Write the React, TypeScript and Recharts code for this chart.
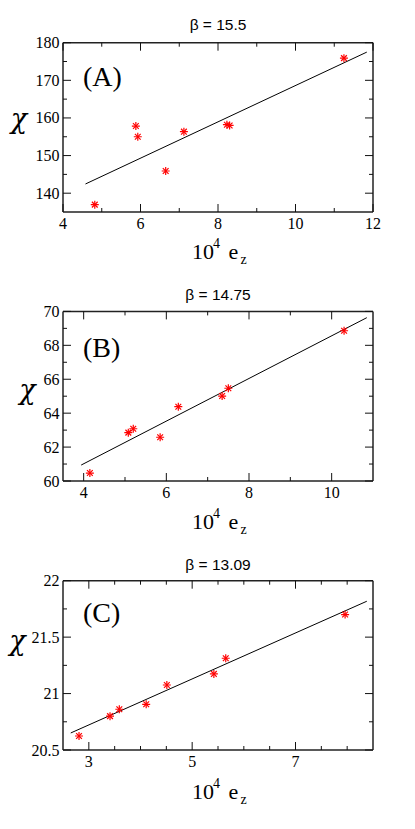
import React from "react";
import { ScatterChart, Scatter, XAxis, YAxis } from "recharts";

// ---------- data ----------
const titlesText = ["β = 15.5", "β = 14.75", "β = 13.09"];
const panelLetters = ["(A)", "(B)", "(C)"];

const panelAX = [4.82, 5.88, 5.93, 6.65, 7.12, 8.23, 8.3, 11.25];
const panelAY = [136.95, 157.85, 155.0, 145.9, 156.35, 158.2, 158.0, 175.9];
const fitAX = [4.58, 11.84];
const fitAY = [142.45, 177.5];

const panelBX = [4.15, 5.08, 5.2, 5.85, 6.29, 7.35, 7.5, 10.3];
const panelBY = [60.47, 62.85, 63.08, 62.58, 64.38, 65.01, 65.47, 68.86];
const fitBX = [3.94, 10.85];
const fitBY = [60.94, 69.63];

const panelCX = [2.81, 3.41, 3.59, 4.11, 4.51, 5.42, 5.65, 7.96];
const panelCY = [20.624, 20.8, 20.861, 20.905, 21.076, 21.174, 21.313, 21.7];
const fitCX = [2.65, 8.38];
const fitCY = [20.651, 21.818];

const xDomainA = [4, 12];
const yDomainA = [135, 180];
const xMajorA = [4, 6, 8, 10, 12];
const xMinorA = [5, 7, 9, 11];
const yMajorA = [140, 150, 160, 170, 180];
const yMinorA = [145, 155, 165, 175];

const xDomainB = [3.5, 11];
const yDomainB = [60, 70];
const xMajorB = [4, 6, 8, 10];
const xMinorB = [5, 7, 9];
const yMajorB = [60, 62, 64, 66, 68, 70];
const yMinorB = [61, 63, 65, 67, 69];

const xDomainC = [2.5, 8.5];
const yDomainC = [20.5, 22];
const xMajorC = [3, 5, 7];
const xMinorC = [3.5, 4, 4.5, 5.5, 6, 6.5, 7.5, 8];
const yMajorC = [20.5, 21, 21.5, 22];
const yMinorC = [20.75, 21.25, 21.75];

const zip = (xs: number[], ys: number[]) => xs.map((x, i) => ({ x, y: ys[i] }));

// ---------- styles ----------
const SERIF = "'Liberation Serif', 'Times New Roman', serif";
const SANS = "'Liberation Sans', Arial, sans-serif";
const FRAME = "#222";
const MAJOR_LEN = 8;
const MINOR_LEN = 4;

type Panel = {
  title: string;
  letter: string;
  points: { x: number; y: number }[];
  fit: { x: number; y: number }[];
  xDomain: number[];
  yDomain: number[];
  xMajor: number[];
  xMinor: number[];
  yMajor: number[];
  yMinor: number[];
  plotTop: number;
  plotBottom: number;
  letterY: number;
  chiX: number;
  chiY: number;
};

const panels: Panel[] = [
  {
    title: titlesText[0], letter: panelLetters[0],
    points: zip(panelAX, panelAY), fit: zip(fitAX, fitAY),
    xDomain: xDomainA, yDomain: yDomainA,
    xMajor: xMajorA, xMinor: xMinorA, yMajor: yMajorA, yMinor: yMinorA,
    plotTop: 42.7, plotBottom: 212, letterY: 86, chiX: 19, chiY: 128,
  },
  {
    title: titlesText[1], letter: panelLetters[1],
    points: zip(panelBX, panelBY), fit: zip(fitBX, fitBY),
    xDomain: xDomainB, yDomain: yDomainB,
    xMajor: xMajorB, xMinor: xMinorB, yMajor: yMajorB, yMinor: yMinorB,
    plotTop: 41.4, plotBottom: 211, letterY: 87, chiX: 27.5, chiY: 129,
  },
  {
    title: titlesText[2], letter: panelLetters[2],
    points: zip(panelCX, panelCY), fit: zip(fitCX, fitCY),
    xDomain: xDomainC, yDomain: yDomainC,
    xMajor: xMajorC, xMinor: xMinorC, yMajor: yMajorC, yMinor: yMinorC,
    plotTop: 40.7, plotBottom: 210, letterY: 82, chiX: 17.5, chiY: 110,
  },
];

const CHART_W = 415;
const CHART_H = 270;
const LEFT_W = 63;
const RIGHT_W = 42;

const isIn = (arr: number[], v: number) => arr.some((a) => Math.abs(a - v) < 1e-9);

const makeTick = (side: "bottom" | "top" | "left" | "right", major: number[]) => (props: any) => {
  const { x, y, payload } = props;
  const v = payload.value;
  const maj = isIn(major, v);
  const len = maj ? MAJOR_LEN : MINOR_LEN;
  let line;
  let label = null;
  if (side === "bottom") {
    line = <line x1={x} x2={x} y1={y} y2={y - len} stroke="#111" strokeWidth={1} />;
    if (maj)
      label = (
        <text x={x} y={y + 16.5} textAnchor="middle" fontFamily={SERIF} fontSize={16} fill="#000">
          {String(v)}
        </text>
      );
  } else if (side === "top") {
    line = <line x1={x} x2={x} y1={y} y2={y + len} stroke="#111" strokeWidth={1} />;
  } else if (side === "left") {
    line = <line x1={x} x2={x + len} y1={y} y2={y} stroke="#111" strokeWidth={1} />;
    if (maj)
      label = (
        <text x={x - 3.5} y={y + 5.5} textAnchor="end" fontFamily={SERIF} fontSize={16} fill="#000">
          {String(v)}
        </text>
      );
  } else {
    line = <line x1={x} x2={x - len} y1={y} y2={y} stroke="#111" strokeWidth={1} />;
  }
  return (
    <g>
      {line}
      {label}
    </g>
  );
};

const Star = (props: any) => {
  const { cx, cy } = props;
  const r = 4;
  const d = r * 0.72;
  return (
    <g stroke="#ff0000" strokeWidth={1.2}>
      <line x1={cx - r} x2={cx + r} y1={cy} y2={cy} />
      <line x1={cx} x2={cx} y1={cy - r} y2={cy + r} />
      <line x1={cx - d} x2={cx + d} y1={cy - d} y2={cy + d} />
      <line x1={cx - d} x2={cx + d} y1={cy + d} y2={cy - d} />
    </g>
  );
};

const NoShape = () => <g />;

const PanelChart = ({ p }: { p: Panel }) => {
  const xTicks = [...p.xMajor, ...p.xMinor].sort((a, b) => a - b);
  const yTicks = [...p.yMajor, ...p.yMinor].sort((a, b) => a - b);
  const axisLine = { stroke: FRAME, strokeWidth: 1.5 };
  const plotCenterX = LEFT_W + (CHART_W - LEFT_W - RIGHT_W) / 2;
  return (
    <div style={{ position: "relative", width: CHART_W, height: CHART_H }}>
      <ScatterChart width={CHART_W} height={CHART_H} margin={{ top: 0, right: 0, bottom: 0, left: 0 }}>
        <XAxis
          xAxisId="b"
          type="number"
          dataKey="x"
          domain={p.xDomain}
          allowDataOverflow
          ticks={xTicks}
          interval={0}
          height={CHART_H - p.plotBottom}
          tickSize={0}
          tickMargin={0}
          tickLine={false}
          axisLine={axisLine}
          tick={makeTick("bottom", p.xMajor)}
        />
        <XAxis
          xAxisId="t"
          orientation="top"
          type="number"
          dataKey="x"
          domain={p.xDomain}
          allowDataOverflow
          ticks={xTicks}
          interval={0}
          height={p.plotTop}
          tickSize={0}
          tickMargin={0}
          tickLine={false}
          axisLine={axisLine}
          tick={makeTick("top", p.xMajor)}
        />
        <YAxis
          yAxisId="l"
          type="number"
          dataKey="y"
          domain={p.yDomain}
          allowDataOverflow
          ticks={yTicks}
          interval={0}
          width={LEFT_W}
          tickSize={0}
          tickMargin={0}
          tickLine={false}
          axisLine={axisLine}
          tick={makeTick("left", p.yMajor)}
        />
        <YAxis
          yAxisId="r"
          orientation="right"
          type="number"
          dataKey="y"
          domain={p.yDomain}
          allowDataOverflow
          ticks={yTicks}
          interval={0}
          width={RIGHT_W}
          tickSize={0}
          tickMargin={0}
          tickLine={false}
          axisLine={axisLine}
          tick={makeTick("right", p.yMajor)}
        />
        <Scatter
          xAxisId="b"
          yAxisId="l"
          data={p.fit}
          line={{ stroke: "#000", strokeWidth: 1 }}
          shape={NoShape}
          isAnimationActive={false}
        />
        <Scatter xAxisId="t" yAxisId="r" data={p.points} shape={Star} isAnimationActive={false} />
      </ScatterChart>
      <svg
        width={CHART_W}
        height={CHART_H}
        style={{ position: "absolute", left: 0, top: 0, pointerEvents: "none" }}
      >
        <text x={plotCenterX} y={30} textAnchor="middle" fontFamily={SANS} fontSize={15.5} fill="#000">
          {p.title}
        </text>
        <text x={83} y={p.letterY} fontFamily={SERIF} fontSize={28} fill="#000">
          {p.letter}
        </text>
        <text
          x={p.chiX}
          y={p.chiY}
          textAnchor="middle"
          fontFamily="'DejaVu Serif', serif"
          fontStyle="italic"
          fontSize={27}
          fill="#000"
        >
          χ
        </text>
        <text y={258.5} fontFamily={SERIF} fill="#000">
          <tspan x={plotCenterX - 26} fontSize={22}>10</tspan>
          <tspan x={plotCenterX - 5} dy={-11} fontSize={14}>4</tspan>
          <tspan x={plotCenterX + 10.5} dy={11} fontSize={22}>e</tspan>
          <tspan x={plotCenterX + 22.5} dy={5} fontSize={14}>z</tspan>
        </text>
      </svg>
    </div>
  );
};

export default function App() {
  return (
    <div style={{ position: "absolute", left: 0, top: 0, width: 415, height: 829, background: "#fff" }}>
      {panels.map((p, i) => (
        <PanelChart key={i} p={p} />
      ))}
    </div>
  );
}
